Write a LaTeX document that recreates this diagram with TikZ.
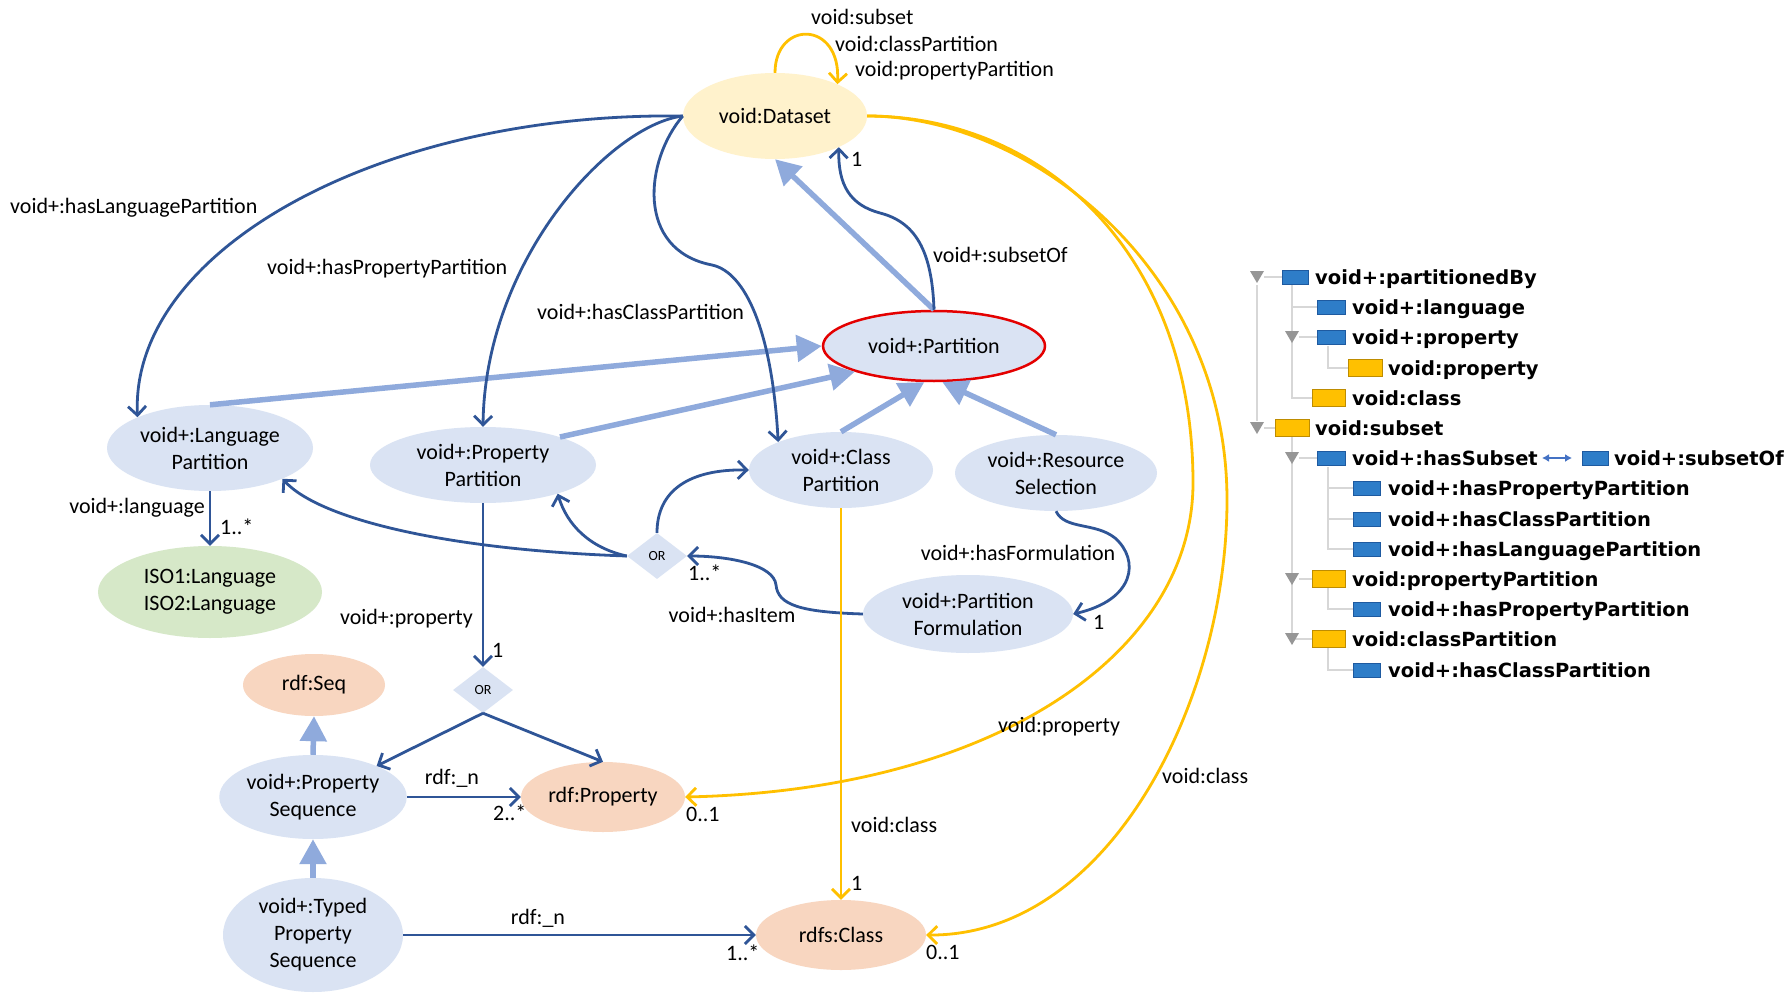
\documentclass[tikz,border=0pt]{standalone}
\usepackage{fontspec}
\setmainfont{Carlito}
\newfontfamily\treefamily{DejaVu Sans}
\usetikzlibrary{shapes.geometric,arrows.meta}
\definecolor{dkblue}{RGB}{47,85,151}
\definecolor{nodeblue}{RGB}{218,227,243}
\definecolor{ltblue}{RGB}{143,170,220}
\definecolor{dsfill}{RGB}{255,242,204}
\definecolor{ylw}{RGB}{255,192,0}
\definecolor{salmon}{RGB}{248,214,192}
\definecolor{isogreen}{RGB}{214,232,200}
\definecolor{redline}{RGB}{228,0,0}
\definecolor{iconblue}{RGB}{46,125,200}
\definecolor{iconblueb}{RGB}{30,90,160}
\definecolor{iconylw}{RGB}{255,192,0}
\definecolor{iconylwb}{RGB}{190,140,0}
\definecolor{treegray}{RGB}{215,215,215}
\definecolor{trigray}{RGB}{150,150,150}
\definecolor{dblarrow}{RGB}{68,114,196}
\newcommand\mylbl{\fontsize{22}{27}\selectfont}
\newcommand\mytree{\treefamily\bfseries\fontsize{19.5}{24}\selectfont}
\begin{document}
\begin{tikzpicture}[x=1pt,y=-1pt,
  ell/.style={ellipse, inner sep=0pt, align=center, font=\mylbl},
  bnode/.style={ell, fill=nodeblue},
  snode/.style={ell, fill=salmon},
  ornode/.style={diamond, fill=nodeblue, inner sep=0pt, minimum width=60pt, minimum height=46pt, font=\fontsize{14}{16}\selectfont},
  rel/.style={draw=dkblue, line width=2.8pt, -{Straight Barb[length=9pt,width=18pt]}},
  yrel/.style={draw=ylw, line width=2.8pt, -{Straight Barb[length=9pt,width=18pt]}},
  isa/.style={draw=ltblue, line width=5.5pt, -{Triangle[length=25pt,width=26pt]}},
  lab/.style={font=\mylbl, inner sep=0pt, anchor=base west},
  labc/.style={font=\mylbl, inner sep=0pt, anchor=base},
  labe/.style={font=\mylbl, inner sep=0pt, anchor=base east},
  tlab/.style={font=\mytree, inner sep=0pt, anchor=base west},
  treeline/.style={draw=treegray, line width=1.5pt},
  bicon/.style={fill=iconblue, draw=iconblueb, line width=0.8pt},
  yicon/.style={fill=iconylw, draw=iconylwb, line width=1pt},
  tri/.style={fill=trigray}
]
\useasboundingbox (0,0) rectangle (1790,1003);
\fill[white] (0,0) rectangle (1790,1003);

% ---------------- nodes
\node[ell, fill=dsfill, minimum width=184pt, minimum height=86pt] (ds) at (775,116) {void:Dataset};
\node[bnode, draw=redline, line width=2.5pt, minimum width=222pt, minimum height=70pt] (part) at (934,346) {void+:Partition};
\node[bnode, minimum width=206pt, minimum height=86pt] (lang) at (210,448) {void+:Language\\Partition};
\node[bnode, minimum width=226pt, minimum height=76pt] (prop) at (483,465) {void+:Property\\Partition};
\node[bnode, minimum width=184pt, minimum height=76pt] (cls) at (841,470) {void+:Class\\Partition};
\node[bnode, minimum width=202pt, minimum height=76pt] (rsel) at (1056,473) {void+:Resource\\Selection};
\node[ell, fill=isogreen, minimum width=224pt, minimum height=92pt] (iso) at (210,592) {ISO1:Language\\ISO2:Language};
\node[ornode] (or1) at (657,556) {OR};
\node[bnode, minimum width=210pt, minimum height=78pt] (pform) at (968,614) {void+:Partition\\Formulation};
\node[ornode] (or2) at (483,690) {OR};
\node[snode, minimum width=142pt, minimum height=62pt] (seq) at (314,685) {rdf:Seq};
\node[bnode, minimum width=186pt, minimum height=84pt] (pseq) at (313,797) {void+:Property\\Sequence};
\node[snode, minimum width=164pt, minimum height=70pt] (rprop) at (603,797) {rdf:Property};
\node[bnode, minimum width=180pt, minimum height=114pt] (tpseq) at (313,935) {void+:Typed\\Property\\Sequence};
\node[snode, minimum width=170pt, minimum height=70pt] (rcls) at (841,935) {rdfs:Class};

% ---------------- inheritance arrows
\draw[isa] (part.north) -- (ds.south);
\draw[isa] (lang.north) -- (part.west);
\draw[isa] (prop.20) -- (part.198);
\draw[isa] (cls.north) -- (part.255);
\draw[isa] (rsel.north) -- (part.283);
\draw[isa] (pseq.north) -- (seq.south);
\draw[isa] (tpseq.north) -- (pseq.south);

% ---------------- dark blue relations
\draw[rel] (ds.west) .. controls (380,112) and (130,250) .. (lang.157);
\draw[rel] (ds.west) .. controls (610,125) and (485,260) .. (prop.north);
\draw[rel] (ds.west) .. controls (645,160) and (635,250) .. (712,265) .. controls (745,272) and (772,330) .. (cls.156);
\draw[rel] (part.north) .. controls (932,250) and (915,222) .. (880,213) .. controls (850,205) and (838,185) .. (ds.-26);
\draw[rel] (lang.south) -- (iso.north);
\draw[rel] (prop.south) -- (or2.north);
\draw[rel] (or2.south) -- (pseq.26);
\draw[rel] (or2.south) -- (rprop.north);
\draw[rel] (pseq.east) -- (rprop.west);
\draw[rel] (tpseq.east) -- (rcls.west);
\draw[rel] (or1.west) .. controls (450,550) and (320,520) .. (lang.-23);
\draw[rel] (or1.west) .. controls (590,548) and (567,525) .. (prop.-21);
\draw[rel] (or1.north) .. controls (657,490) and (690,469) .. (cls.west);
\draw[rel] (pform.west) .. controls (800,612) and (778,605) .. (776,585) .. controls (774,565) and (730,556) .. (or1.east);
\draw[rel] (rsel.south) .. controls (1065,530) and (1095,522) .. (1115,538) .. controls (1140,560) and (1135,600) .. (pform.east);

% ---------------- yellow relations
\draw[yrel] (ds.north) .. controls (775,20) and (841,20) .. (ds.27);
\draw[yrel] (cls.south) -- (rcls.north);
\draw[yrel] (ds.east) .. controls (1040,116) and (1193,250) .. (1193,483) .. controls (1193,650) and (1000,790) .. (rprop.east);
\draw[yrel] (ds.east) .. controls (1030,116) and (1227,270) .. (1227,500) .. controls (1227,700) and (1110,936) .. (rcls.east);

% ---------------- labels
\node[lab] (l1) at (811,25) {void:subset};
\node[lab] (l2) at (835,52) {void:classPartition};
\node[lab] (l3) at (855,77) {void:propertyPartition};
\node[lab] (l4) at (851,167) {1};
\node[lab] (l5) at (933,262) {void+:subsetOf};
\node[lab] (l6) at (10,214) {void+:hasLanguagePartition};
\node[lab] (l7) at (267,274) {void+:hasPropertyPartition};
\node[lab] (l8) at (537,319) {void+:hasClassPartition};
\node[labe] (l9) at (205,513) {void+:language};
\node[lab] (l10) at (220,534) {1..*};
\node[labe] (l11) at (473,624) {void+:property};
\node[lab] (l12) at (492,657) {1};
\node[lab] (l13) at (688,580) {1..*};
\node[labc] (l14) at (732,622) {void+:hasItem};
\node[labc] (l15) at (1018,560) {void+:hasFormulation};
\node[lab] (l16) at (1093,629) {1};
\node[labc] (l17) at (452,784) {rdf:\_n};
\node[lab] (l18) at (493,820) {2..*};
\node[lab] (l19) at (686,821) {0..1};
\node[lab] (l20) at (998,732) {void:property};
\node[lab] (l21) at (851,832) {void:class};
\node[lab] (l22) at (851,890) {1};
\node[lab] (l23) at (1162,783) {void:class};
\node[labc] (l24) at (538,924) {rdf:\_n};
\node[lab] (l25) at (726,960) {1..*};
\node[lab] (l26) at (926,959) {0..1};

% ---------------- property tree
\draw[treeline] (1257,285) -- (1257,421);
\draw[treeline] (1264,277) -- (1282,277);
\draw[treeline] (1292,285) -- (1292,398) -- (1312,398);
\draw[treeline] (1292,307) -- (1317,307);
\draw[treeline] (1299,337) -- (1317,337);
\draw[treeline] (1328,346) -- (1328,368) -- (1348,368);
\draw[treeline] (1264,428) -- (1275,428);
\draw[treeline] (1292,437) -- (1292,639) -- (1312,639);
\draw[treeline] (1299,458) -- (1317,458);
\draw[treeline] (1299,579) -- (1312,579);
\draw[treeline] (1328,467) -- (1328,549) -- (1353,549);
\draw[treeline] (1328,488) -- (1353,488);
\draw[treeline] (1328,519) -- (1353,519);
\draw[treeline] (1328,588) -- (1328,609) -- (1353,609);
\draw[treeline] (1328,648) -- (1328,670) -- (1353,670);

\foreach \x/\y in {1257/277,1292/337,1257/428,1292/458,1292/579,1292/639}
  \fill[tri] (\x-7,\y-6) -- (\x+7,\y-6) -- (\x,\y+6) -- cycle;

\draw[bicon] (1282,270) rectangle (1308,284);
\draw[bicon] (1317,300) rectangle (1345,314);
\draw[bicon] (1317,330) rectangle (1345,344);
\draw[yicon] (1348,359.5) rectangle (1382,376.5);
\draw[yicon] (1312,389.5) rectangle (1345,406.5);
\draw[yicon] (1275,419.5) rectangle (1309,436.5);
\draw[bicon] (1317,451) rectangle (1345,465);
\draw[bicon] (1582,451) rectangle (1608,465);
\draw[bicon] (1353,481) rectangle (1380,495);
\draw[bicon] (1353,512) rectangle (1380,526);
\draw[bicon] (1353,542) rectangle (1380,556);
\draw[yicon] (1312,570.5) rectangle (1345,587.5);
\draw[bicon] (1353,602) rectangle (1380,616);
\draw[yicon] (1312,630.5) rectangle (1345,647.5);
\draw[bicon] (1353,663) rectangle (1380,677);
\draw[draw=dblarrow, line width=1.5pt, {Latex[length=7pt,width=8pt]}-{Latex[length=7pt,width=8pt]}] (1542,458) -- (1572,458);

\node[tlab] (t0) at (1315,284) {void+:partitionedBy};
\node[tlab] (t1) at (1352,314) {void+:language};
\node[tlab] (t2) at (1352,344) {void+:property};
\node[tlab] (t3) at (1388,375) {void:property};
\node[tlab] (t4) at (1352,405) {void:class};
\node[tlab] (t5) at (1315,435) {void:subset};
\node[tlab] (t6) at (1352,465) {void+:hasSubset};
\node[tlab] (t6b) at (1614,465) {void+:subsetOf};
\node[tlab] (t7) at (1388,495) {void+:hasPropertyPartition};
\node[tlab] (t8) at (1388,526) {void+:hasClassPartition};
\node[tlab] (t9) at (1388,556) {void+:hasLanguagePartition};
\node[tlab] (t10) at (1352,586) {void:propertyPartition};
\node[tlab] (t11) at (1388,616) {void+:hasPropertyPartition};
\node[tlab] (t12) at (1352,646) {void:classPartition};
\node[tlab] (t13) at (1388,677) {void+:hasClassPartition};
\end{tikzpicture}
\end{document}
